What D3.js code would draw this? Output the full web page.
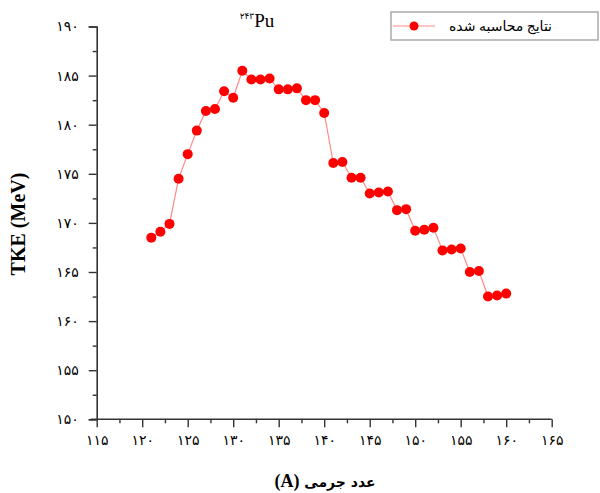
<!DOCTYPE html>
<html>
<head>
<meta charset="utf-8">
<script src="https://cdn.jsdelivr.net/npm/d3@7"></script>
<style>
  body { margin: 0; background: #fff; }
  svg { display: block; }
</style>
</head>
<body>
<svg id="chart" width="600" height="493"></svg>
<script>
const massNumbers = [121,122,123,124,125,126,127,128,129,130,131,132,133,134,135,136,137,138,139,140,
                     141,142,143,144,145,146,147,148,149,150,151,152,153,154,155,156,157,158,159,160];
const tkeValues = [168.5,169.1,169.9,174.5,177.0,179.4,181.4,181.6,183.4,182.75,185.5,184.6,184.6,184.7,183.6,183.6,183.7,182.5,182.5,181.2,
                   176.1,176.2,174.6,174.6,173.0,173.1,173.2,171.3,171.4,169.2,169.3,169.5,167.2,167.3,167.4,165.0,165.1,162.5,162.6,162.8];
const xTicks = [115,120,125,130,135,140,145,150,155,160,165];
const yTicks = [150,155,160,165,170,175,180,185,190];
const seriesName = "نتایج محاسبه شده";
const titleSup = "۲۴۳";
const titleMain = "Pu";
const xLabelFa = "عدد جرمی ";
const xLabelUnit = "(A)";
const yLabel = "TKE (MeV)";

const fa = s => String(s).replace(/[0-9]/g, d => "۰۱۲۳۴۵۶۷۸۹"[d]);

const svg = d3.select("#chart");
const x = d3.scaleLinear().domain([115,165]).range([96.7,551.7]);
const y = d3.scaleLinear().domain([150,190]).range([419.3,26.5]);
const axisColor = "#333";
const serif = "'Times New Roman','Liberation Serif','DejaVu Sans',serif";

// X axis major
const gx = svg.append("g").attr("transform", `translate(0,${y(150)})`)
  .call(d3.axisBottom(x).tickValues(xTicks).tickSize(8).tickPadding(8).tickFormat(fa));
// X minor
svg.append("g").attr("transform", `translate(0,${y(150)})`)
  .call(d3.axisBottom(x).tickValues(xTicks.slice(0,-1).map(v=>v+2.5)).tickSize(4).tickFormat(""))
  .select(".domain").remove();
// Y axis major
const gy = svg.append("g").attr("transform", `translate(${x(115)},0)`)
  .call(d3.axisLeft(y).tickValues(yTicks).tickSize(8).tickPadding(10).tickFormat(fa));
svg.append("g").attr("transform", `translate(${x(115)},0)`)
  .call(d3.axisLeft(y).tickValues(yTicks.slice(0,-1).map(v=>v+2.5)).tickSize(4).tickFormat(""))
  .select(".domain").remove();

svg.selectAll(".domain").attr("stroke", axisColor).attr("stroke-width", 1.6);
svg.selectAll(".tick line").attr("stroke", axisColor).attr("stroke-width", 1.4);
svg.selectAll(".tick text").attr("fill", "#000").style("font-family", serif).style("font-size", "14px");
gx.selectAll(".domain").attr("d", `M${x(115)-6},0H${x(165)}`);

// Line
const data = massNumbers.map((m,i)=>({m, v: tkeValues[i]}));
svg.append("path").datum(data)
  .attr("fill","none").attr("stroke","#ff8a8a").attr("stroke-width",1.2)
  .attr("d", d3.line().x(d=>x(d.m)).y(d=>y(d.v)));
svg.append("g").selectAll("circle").data(data).join("circle")
  .attr("cx", d=>x(d.m)).attr("cy", d=>y(d.v)).attr("r", 5).attr("fill","#ff0000");

// Title
const t = svg.append("text").attr("x", 257).attr("y", 27).attr("text-anchor","middle")
  .style("font-family", serif).style("font-size","19px").attr("fill","#000");
t.append("tspan").text(titleSup).style("font-size","9px").attr("dy",-8);
t.append("tspan").text(titleMain).attr("dy",8);

// Axis labels
svg.append("text").attr("transform", `translate(25,224) rotate(-90)`).attr("text-anchor","middle")
  .style("font-family", serif).style("font-size","20px").style("font-weight","bold").text(yLabel);
const xl = svg.append("text").attr("x", 325).attr("y", 487).attr("text-anchor","middle")
  .attr("direction","rtl").style("unicode-bidi","embed")
  .style("font-weight","bold").attr("fill","#000");
xl.append("tspan").text(xLabelFa).style("font-family","'DejaVu Sans',sans-serif").style("font-size","14px");
xl.append("tspan").text(xLabelUnit).style("font-family", serif).style("font-size","18px");

// Legend
const lg = svg.append("g");
lg.append("rect").attr("x",391).attr("y",12).attr("width",207).attr("height",28)
  .attr("fill","#fff").attr("stroke","#aaa").attr("stroke-width",1.5);
lg.append("line").attr("x1",393).attr("x2",435).attr("y1",26).attr("y2",26).attr("stroke","#ff8a8a").attr("stroke-width",1.2);
lg.append("circle").attr("cx",414).attr("cy",26).attr("r",4.5).attr("fill","#ff0000");
lg.append("text").attr("x",552).attr("y",31).attr("text-anchor","end")
  .style("font-family", serif).style("font-size","14px").attr("fill","#000").text(seriesName);
</script>
</body>
</html>
